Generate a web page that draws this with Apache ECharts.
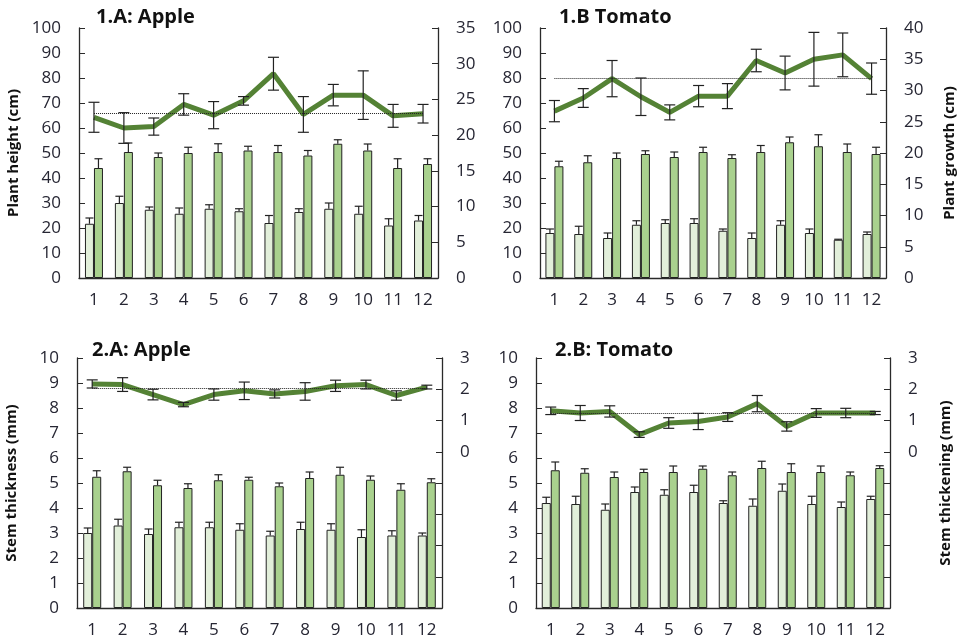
<!DOCTYPE html>
<html>
<head>
<meta charset="utf-8">
<script src="https://cdn.jsdelivr.net/npm/echarts@6/dist/echarts.min.js"></script>
<style>
  html, body { margin: 0; padding: 0; background: #fff; }
  #chart { width: 958px; height: 641px; }
</style>
</head>
<body>
<div id="chart"></div>
<script>
// categories (plants / samples 1..12)
const categories = ['1', '2', '3', '4', '5', '6', '7', '8', '9', '10', '11', '12'];

// 1.A Apple - plant height (cm), left axis
const appleHeightStart    = [21.7, 30, 27.3, 25.7, 27.7, 26.7, 22, 26.4, 27.7, 25.7, 21, 23];
const appleHeightStartErr = [2.3, 2.7, 1.1, 2.3, 1.6, 1.0, 3.0, 1.3, 2.3, 3.0, 2.7, 2.0];
const appleHeightEnd      = [44, 50.4, 48.4, 50, 50.4, 51, 50.4, 49, 53.7, 51, 44, 45.6];
const appleHeightEndErr   = [3.7, 3.6, 1.6, 2.3, 3.3, 1.7, 2.6, 2.0, 1.6, 2.6, 3.7, 2.1];
// plant growth (cm), right axis
const appleGrowth    = [22.5, 21.0, 21.2, 24.3, 22.8, 24.8, 28.6, 22.9, 25.6, 25.6, 22.7, 23.0];
const appleGrowthErr = [2.1, 2.15, 1.2, 1.5, 1.9, 0.6, 2.3, 2.5, 1.5, 3.4, 1.6, 1.3];
const appleGrowthRef = 23.0;

// 1.B Tomato - plant height (cm)
const tomatoHeightStart    = [18, 17.6, 16, 21.3, 22, 22, 18.9, 16, 21.3, 18, 15.3, 17.6];
const tomatoHeightStartErr = [1.6, 3.1, 2.0, 1.6, 1.3, 1.7, 0.7, 2.0, 1.6, 1.6, 0.2, 0.8];
const tomatoHeightEnd      = [44.7, 46.3, 48, 49.6, 48.4, 50.4, 48, 50.4, 54.3, 52.7, 50.4, 49.6];
const tomatoHeightEndErr   = [2.0, 2.6, 2.0, 1.3, 2.0, 1.9, 1.3, 2.6, 2.1, 4.6, 3.2, 2.7];
const tomatoGrowth    = [26.7, 28.8, 31.9, 29.0, 26.5, 29.1, 29.1, 34.8, 32.8, 35.0, 35.7, 31.9];
const tomatoGrowthErr = [1.7, 1.5, 2.9, 3.0, 1.2, 1.7, 2.0, 1.8, 2.7, 4.3, 3.5, 2.5];
const tomatoGrowthRef = 32;

// 2.A Apple - stem thickness (mm)
const appleStemStart    = [3.0, 3.3, 2.96, 3.23, 3.23, 3.13, 2.9, 3.16, 3.13, 2.84, 2.9, 2.9];
const appleStemStartErr = [0.2, 0.25, 0.2, 0.2, 0.2, 0.24, 0.17, 0.27, 0.24, 0.29, 0.19, 0.1];
const appleStemEnd      = [5.25, 5.47, 4.91, 4.8, 5.11, 5.13, 4.87, 5.2, 5.33, 5.13, 4.73, 5.03];
const appleStemEndErr   = [0.24, 0.16, 0.2, 0.17, 0.22, 0.1, 0.13, 0.24, 0.3, 0.15, 0.24, 0.14];
// stem thickening (mm)
const appleThick    = [2.17, 2.15, 1.83, 1.51, 1.83, 1.95, 1.85, 1.93, 2.11, 2.15, 1.8, 2.07];
const appleThickErr = [0.13, 0.22, 0.17, 0.07, 0.18, 0.28, 0.13, 0.28, 0.18, 0.14, 0.15, 0.06];
const appleThickRef = 2.04;

// 2.B Tomato - stem thickness (mm)
const tomatoStemStart    = [4.2, 4.16, 3.93, 4.64, 4.53, 4.64, 4.2, 4.09, 4.69, 4.16, 4.04, 4.36];
const tomatoStemStartErr = [0.23, 0.31, 0.23, 0.2, 0.2, 0.27, 0.09, 0.27, 0.27, 0.31, 0.2, 0.11];
const tomatoStemEnd      = [5.51, 5.41, 5.24, 5.44, 5.44, 5.57, 5.31, 5.6, 5.44, 5.44, 5.31, 5.6];
const tomatoStemEndErr   = [0.33, 0.16, 0.2, 0.11, 0.24, 0.11, 0.13, 0.27, 0.33, 0.24, 0.13, 0.09];
const tomatoThick    = [1.31, 1.24, 1.29, 0.55, 0.92, 0.97, 1.11, 1.54, 0.81, 1.24, 1.24, 1.24];
const tomatoThickErr = [0.12, 0.24, 0.18, 0.09, 0.17, 0.26, 0.14, 0.26, 0.15, 0.14, 0.15, 0.05];
const tomatoThickRef = 1.24;

const FONT = 'Open Sans';
const TXT = '#262633';
const AXIS = '#2a2a2a';
const LIGHT = '#e2efda';
const DARK = '#a9d18e';
const LINE = '#548235';
const BAR_W = 9;

const chart = echarts.init(document.getElementById('chart'));

// error bar drawer: offset from category centre, cap width, both directions or only plus
function errBars(offset, cap, both) {
  return function (params, api) {
    const i = api.value(0), m = api.value(1), e = api.value(2);
    const hi = api.coord([i, m + e]);
    const lo = api.coord([i, both ? m - e : m]);
    const x = hi[0] + offset;
    const style = { stroke: '#222', lineWidth: 1.2 };
    const kids = [
      { type: 'line', shape: { x1: x, y1: hi[1], x2: x, y2: lo[1] }, style: style },
      { type: 'line', shape: { x1: x - cap / 2, y1: hi[1], x2: x + cap / 2, y2: hi[1] }, style: style }
    ];
    if (both) {
      kids.push({ type: 'line', shape: { x1: x - cap / 2, y1: lo[1], x2: x + cap / 2, y2: lo[1] }, style: style });
    }
    return { type: 'group', children: kids };
  };
}

function withErr(vals, errs) {
  return vals.map((v, i) => [i, v, errs[i]]);
}

function panelSeries(idx, start, startErr, end, endErr, line, lineErr, ref) {
  const xa = idx, yl = idx * 2, yr = idx * 2 + 1;
  return [
    {
      type: 'bar', xAxisIndex: xa, yAxisIndex: yl, data: start,
      barWidth: BAR_W, barGap: '0%',
      itemStyle: { color: LIGHT, borderColor: '#222', borderWidth: 1 }
    },
    {
      type: 'bar', xAxisIndex: xa, yAxisIndex: yl, data: end,
      barWidth: BAR_W, barGap: '0%',
      itemStyle: { color: DARK, borderColor: '#222', borderWidth: 1 }
    },
    {
      type: 'custom', xAxisIndex: xa, yAxisIndex: yl, z: 5,
      renderItem: errBars(-BAR_W / 2, 8, false),
      encode: { x: 0, y: 1 }, data: withErr(start, startErr)
    },
    {
      type: 'custom', xAxisIndex: xa, yAxisIndex: yl, z: 5,
      renderItem: errBars(BAR_W / 2, 8, false),
      encode: { x: 0, y: 1 }, data: withErr(end, endErr)
    },
    {
      type: 'line', xAxisIndex: xa, yAxisIndex: yr, data: line, z: 4,
      symbol: 'none',
      lineStyle: { color: LINE, width: 5 },
      markLine: {
        silent: true, symbol: 'none', label: { show: false },
        lineStyle: { color: '#222', type: 'dotted', width: 1 },
        data: [[{ coord: ['1', ref] }, { coord: ['12', ref] }]]
      }
    },
    {
      type: 'custom', xAxisIndex: xa, yAxisIndex: yr, z: 6,
      renderItem: errBars(0, 11, true),
      encode: { x: 0, y: 1 }, data: withErr(line, lineErr)
    }
  ];
}

const grids = [
  { left: 79, top: 28, width: 359, height: 250 },
  { left: 540, top: 28, width: 354, height: 250 },
  { left: 77, top: 358, width: 365, height: 250 },
  { left: 536, top: 358, width: 354, height: 250 }
];

const labelStyle = { fontFamily: FONT, fontSize: 17, color: TXT };
const nameStyle = { fontFamily: FONT, fontSize: 15, fontWeight: 'bold', color: '#111' };

function xAxis(g) {
  return {
    type: 'category', gridIndex: g, data: categories,
    axisLine: { show: true, lineStyle: { color: AXIS, width: 1.3 } },
    axisTick: { show: false },
    axisLabel: Object.assign({ margin: 14 }, labelStyle)
  };
}

function yLeft(g, max, interval, name) {
  return {
    type: 'value', gridIndex: g, position: 'left', min: 0, max: max, interval: interval,
    name: name, nameLocation: 'middle', nameGap: 58, nameRotate: 90, nameTextStyle: nameStyle,
    splitLine: { show: false },
    axisLine: { show: true, lineStyle: { color: AXIS, width: 1.3 } },
    axisTick: { show: true, inside: true, length: 6, lineStyle: { color: AXIS } },
    axisLabel: Object.assign({ margin: 18 }, labelStyle)
  };
}

function yRight(g, min, max, interval, name, gap) {
  return {
    type: 'value', gridIndex: g, position: 'right', min: min, max: max, interval: interval,
    name: name, nameLocation: 'middle', nameGap: gap, nameRotate: 90, nameTextStyle: nameStyle,
    splitLine: { show: false },
    axisLine: { show: true, lineStyle: { color: AXIS, width: 1.3 } },
    axisTick: { show: true, inside: true, length: 6, lineStyle: { color: AXIS } },
    axisLabel: Object.assign({
      margin: 18,
      formatter: v => (v >= 0 ? String(v) : '')
    }, labelStyle)
  };
}

const titleStyle = { fontFamily: FONT, fontSize: 20, fontWeight: 'bold', color: '#111' };

const option = {
  animation: false,
  backgroundColor: '#fff',
  title: [
    { text: '1.A: Apple', left: 96, top: 7, padding: 0, textStyle: titleStyle },
    { text: '1.B Tomato', left: 559, top: 7, padding: 0, textStyle: titleStyle },
    { text: '2.A: Apple', left: 92, top: 340, padding: 0, textStyle: titleStyle },
    { text: '2.B: Tomato', left: 555, top: 340, padding: 0, textStyle: titleStyle }
  ],
  grid: grids,
  xAxis: [xAxis(0), xAxis(1), xAxis(2), xAxis(3)],
  yAxis: [
    yLeft(0, 100, 10, 'Plant height (cm)'),
    yRight(0, 0, 35, 5, '', 50),
    yLeft(1, 100, 10, ''),
    yRight(1, 0, 40, 5, 'Plant growth (cm)', 56),
    yLeft(2, 10, 1, 'Stem thickness (mm)'),
    yRight(2, -5, 3, 1, '', 50),
    yLeft(3, 10, 1, ''),
    yRight(3, -5, 3, 1, 'Stem thickening (mm)', 48)
  ],
  series: [].concat(
    panelSeries(0, appleHeightStart, appleHeightStartErr, appleHeightEnd, appleHeightEndErr,
      appleGrowth, appleGrowthErr, appleGrowthRef),
    panelSeries(1, tomatoHeightStart, tomatoHeightStartErr, tomatoHeightEnd, tomatoHeightEndErr,
      tomatoGrowth, tomatoGrowthErr, tomatoGrowthRef),
    panelSeries(2, appleStemStart, appleStemStartErr, appleStemEnd, appleStemEndErr,
      appleThick, appleThickErr, appleThickRef),
    panelSeries(3, tomatoStemStart, tomatoStemStartErr, tomatoStemEnd, tomatoStemEndErr,
      tomatoThick, tomatoThickErr, tomatoThickRef)
  )
};

chart.setOption(option);
</script>
</body>
</html>
